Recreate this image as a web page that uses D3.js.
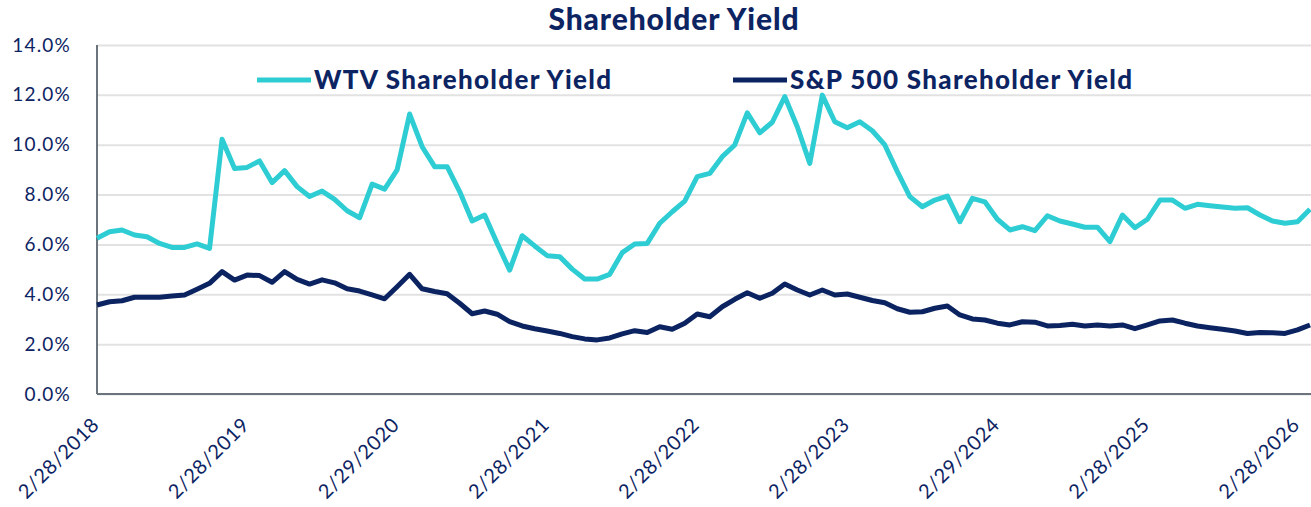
<!DOCTYPE html>
<html>
<head>
<meta charset="utf-8">
<script src="https://cdn.jsdelivr.net/npm/d3@7"></script>
<style>
  body { margin: 0; background: #fff; }
  svg { display: block; font-family: Lato, 'Open Sans', sans-serif; }
  .grid line { stroke: #e2e2e2; stroke-width: 2; }
  .grid .domain { display: none; }
  .ylab text { fill: #0d2463; font-family: Lato, sans-serif; font-size: 19px; letter-spacing: 1.2px; }
  .xlab text { fill: #0d2463; font-family: Lato, sans-serif; font-size: 20px; letter-spacing: 0.6px; }
</style>
</head>
<body>
<svg></svg>
<script>
const wtvYield = [6.25, 6.51, 6.58, 6.38, 6.31, 6.04, 5.88, 5.88, 6.02, 5.84,
  10.22, 9.05, 9.09, 9.35, 8.48, 8.96, 8.32, 7.92, 8.14, 7.81,
  7.35, 7.07, 8.42, 8.22, 8.99, 11.23, 9.92, 9.12, 9.12, 8.12,
  6.94, 7.18, 6.05, 4.97, 6.35, 5.94, 5.55, 5.51, 5.01, 4.61,
  4.61, 4.80, 5.67, 6.02, 6.04, 6.85, 7.31, 7.74, 8.72, 8.85,
  9.52, 9.99, 11.28, 10.48, 10.90, 11.93, 10.72, 9.25, 11.99, 10.92,
  10.68, 10.92, 10.56, 9.99, 8.92, 7.92, 7.51, 7.78, 7.94, 6.91,
  7.85, 7.71, 7.01, 6.58, 6.71, 6.55, 7.15, 6.94, 6.82, 6.69,
  6.69, 6.11, 7.18, 6.67, 7.01, 7.78, 7.78, 7.45, 7.61, 7.55,
  7.50, 7.45, 7.47, 7.18, 6.94, 6.85, 6.91, 7.41];

const spxYield = [3.57, 3.70, 3.74, 3.88, 3.88, 3.88, 3.93, 3.97, 4.20, 4.44,
  4.91, 4.57, 4.77, 4.75, 4.48, 4.91, 4.60, 4.41, 4.58, 4.46,
  4.22, 4.13, 3.98, 3.82, 4.30, 4.80, 4.22, 4.11, 4.02, 3.64,
  3.22, 3.33, 3.20, 2.90, 2.73, 2.62, 2.53, 2.43, 2.30, 2.21,
  2.17, 2.25, 2.41, 2.54, 2.47, 2.70, 2.60, 2.84, 3.21, 3.10,
  3.50, 3.80, 4.06, 3.84, 4.04, 4.41, 4.17, 3.97, 4.17, 3.97,
  4.01, 3.88, 3.75, 3.66, 3.42, 3.28, 3.30, 3.44, 3.53, 3.17,
  3.01, 2.97, 2.84, 2.77, 2.90, 2.88, 2.73, 2.75, 2.80, 2.73,
  2.77, 2.73, 2.77, 2.62, 2.77, 2.93, 2.97, 2.84, 2.73, 2.66,
  2.60, 2.53, 2.43, 2.47, 2.46, 2.43, 2.57, 2.77];

const tickLabels = ['2/28/2018', '2/28/2019', '2/29/2020', '2/28/2021', '2/28/2022',
  '2/28/2023', '2/29/2024', '2/28/2025', '2/28/2026'];
const yTicks = [0, 2, 4, 6, 8, 10, 12, 14];
const seriesNames = ['WTV Shareholder Yield', 'S&P 500 Shareholder Yield'];
const seriesColors = ['#2ecdd3', '#0b2461'];

// month-end dates, one per observation
const fmt = d3.timeFormat('%-m/%-d/%Y');
const months = wtvYield.map((d, i) => fmt(new Date(2018, 2 + i, 0)));

const width = 1311, height = 507;
const margin = {top: 45, right: 1, bottom: 113, left: 97};

const svg = d3.select('svg')
  .attr('width', width)
  .attr('height', height);

const x = d3.scalePoint()
  .domain(months)
  .range([margin.left, width - margin.right]);

const y = d3.scaleLinear()
  .domain([0, 14])
  .range([height - margin.bottom, margin.top]);

// gridlines + y labels
svg.append('g')
  .attr('class', 'grid')
  .attr('transform', `translate(${margin.left},0)`)
  .call(d3.axisLeft(y).tickValues(yTicks).tickSize(-(width - margin.left)).tickFormat(''));

svg.append('g')
  .attr('class', 'ylab')
  .attr('transform', `translate(${margin.left},0)`)
  .call(d3.axisLeft(y).tickValues(yTicks).tickSize(0).tickPadding(26)
    .tickFormat(d => d.toFixed(1) + '%'))
  .call(g => g.select('.domain').remove());

// axes lines
svg.append('line')
  .attr('x1', margin.left).attr('x2', width)
  .attr('y1', y(0)).attr('y2', y(0))
  .attr('stroke', '#6b737c').attr('stroke-width', 2);
svg.append('line')
  .attr('x1', margin.left).attr('x2', margin.left)
  .attr('y1', y(14)).attr('y2', y(0))
  .attr('stroke', '#6b737c').attr('stroke-width', 2);

// x labels
svg.append('g')
  .attr('class', 'xlab')
  .attr('transform', `translate(0,${y(0)})`)
  .call(d3.axisBottom(x).tickValues(tickLabels).tickSize(0))
  .call(g => g.select('.domain').remove())
  .selectAll('text')
    .attr('text-anchor', 'end')
    .attr('dy', 0)
    .attr('y', 0)
    .attr('transform', 'translate(3,32) rotate(-45)');

const line = d3.line()
  .x((d, i) => x(months[i]))
  .y(d => y(d));

[wtvYield, spxYield].forEach((s, k) => {
  svg.append('path')
    .attr('d', line(s))
    .attr('fill', 'none')
    .attr('stroke', seriesColors[k])
    .attr('stroke-width', 5)
    .attr('stroke-linejoin', 'round');
});

// title
svg.append('text')
  .attr('x', 674).attr('y', 30)
  .attr('text-anchor', 'middle')
  .attr('fill', '#0d2463')
  .style('font-size', '30px')
  .style('font-weight', 900)
  .style('letter-spacing', '0.9px')
  .text('Shareholder Yield');

// legend
const legendX = [257, 733];
seriesNames.forEach((name, k) => {
  const g = svg.append('g').attr('transform', `translate(${legendX[k]},80)`);
  g.append('line')
    .attr('x1', 0).attr('x2', 54)
    .attr('stroke', seriesColors[k]).attr('stroke-width', 5);
  g.append('text')
    .attr('x', 57).attr('y', 9)
    .attr('fill', '#0d2463')
    .style('font-size', '26px')
    .style('font-weight', 900)
    .style('letter-spacing', '1.3px')
    .text(name);
});
</script>
</body>
</html>
